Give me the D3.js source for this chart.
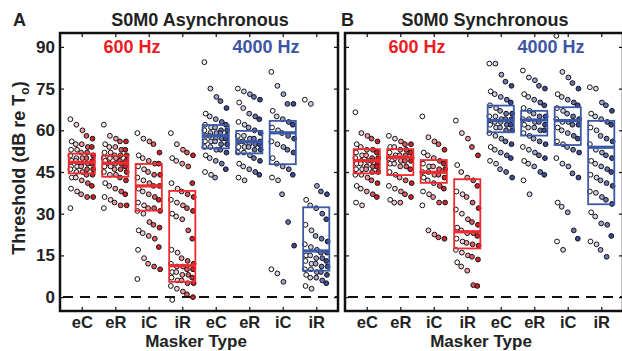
<!DOCTYPE html>
<html>
<head>
<meta charset="utf-8">
<script src="https://cdn.jsdelivr.net/npm/d3@7"></script>
<style>
  body { margin: 0; background: #fff; }
  svg { display: block; font-family: "Liberation Sans", Arial, sans-serif; font-weight: bold; }
</style>
</head>
<body>
<svg id="chart" width="622" height="351"></svg>
<script>
// Masker types, two frequencies per panel
const maskers = ["eC", "eR", "iC", "iR", "eC", "eR", "iC", "iR"];
const yTicks = [0, 15, 30, 45, 60, 75, 90];

// S0M0 Asynchronous, individual thresholds (dB)
const async600eC = [64, 62, 60, 58, 57, 56, 55, 55, 54, 54, 53, 53, 52, 52, 51, 51, 50, 50, 50, 49, 49, 49, 48, 48, 48, 47, 47, 47, 46, 46, 46, 45, 45, 44, 44, 43, 43, 42, 41, 40, 39, 38, 37, 36, 36, 32];
const async600eR = [62, 58, 57, 56, 56, 55, 54, 54, 53, 53, 52, 52, 51, 51, 51, 50, 50, 50, 49, 49, 49, 48, 48, 48, 47, 47, 47, 46, 46, 45, 45, 44, 44, 43, 42, 41, 40, 39, 38, 37, 36, 35, 34, 33, 33, 32];
const async600iC = [59, 57, 56, 55, 52, 51, 50, 49, 48, 48, 47, 46, 45, 44, 44, 43, 42, 41, 40, 40, 39, 38, 37, 36, 35, 34, 33, 32, 32, 31, 31, 30, 27, 26, 25, 24, 23, 22, 21, 18, 17, 14, 12, 11, 10, 6.5];
const async600iR = [59, 55, 53, 52, 51, 50, 49, 48, 47, 41, 41, 39, 38, 37, 36, 35, 34, 33, 32, 31, 30, 29, 28, 24, 21, 17, 16, 14, 13, 12, 12, 11, 11, 10, 10, 9, 9, 8, 8, 7, 7, 6, 6, 5, 5, 4, 3, 2, 1, 0, -1];
const async4000eC = [84.5, 75, 72, 70.5, 68, 66, 65, 64, 63, 62, 62, 61, 61, 60, 60, 60, 59, 59, 59, 58, 58, 58, 57, 57, 57, 56, 56, 56, 55, 55, 54, 54, 53, 53, 52, 51, 50, 49, 48, 46, 45, 44, 43];
const async4000eR = [75, 74, 73, 72, 71, 70, 68, 66, 65, 64, 63, 62, 61, 60, 59, 58, 58, 57, 57, 56, 56, 56, 55, 55, 55, 54, 54, 54, 53, 53, 52, 52, 51, 50, 49, 48, 47, 46, 45, 44, 43, 42];
const async4000iC = [81, 76, 73, 69.5, 69.5, 67, 65, 64, 63, 62, 61, 60, 59, 58, 57, 56, 55, 54, 53, 52, 50, 48, 47, 46, 44, 43, 42, 37, 27, 18.5, 10, 8.5, 5.5];
const async4000iR = [71, 69.5, 40, 38, 37, 35, 33, 32, 30, 28, 26, 24, 22, 21, 20, 19, 18, 17, 16, 16, 15, 15, 14, 14, 13, 13, 12, 12, 11, 11, 10, 10, 9, 9, 8, 8, 7, 7, 6, 5, 4, 3];

// S0M0 Synchronous, individual thresholds (dB)
const sync600eC = [66.5, 59, 58, 57, 56, 55, 54, 53, 53, 52, 52, 51, 51, 50, 50, 50, 49, 49, 49, 48, 48, 48, 47, 47, 47, 46, 46, 46, 45, 45, 44, 44, 43, 42, 41, 40, 39, 38, 37, 36, 34, 33];
const sync600eR = [58, 57, 56, 55, 55, 54, 54, 53, 53, 52, 52, 51, 51, 51, 50, 50, 50, 49, 49, 49, 48, 48, 47, 47, 46, 45, 44, 43, 42, 41, 40, 39, 38, 37, 36, 35, 34, 34];
const sync600iC = [65, 57.5, 56, 55, 53, 52, 51, 50, 49, 48, 48, 47, 47, 46, 46, 45, 45, 44, 44, 43, 43, 42, 41, 40, 39, 38, 37, 36, 34, 34, 33, 24, 22.5, 21.5, 21];
const sync600iR = [63.5, 59, 57, 54, 51, 47.5, 45, 43, 42, 40, 38, 37, 36, 34, 32, 31.5, 30, 28, 27, 26, 25, 24, 23, 23, 22, 21, 20, 19.5, 19, 18.5, 17, 16, 15, 14.5, 13.5, 12.5, 11, 9.5, 4.3, 4];
const sync4000eC = [84, 84, 80, 77.5, 76, 74, 73, 72, 71, 70, 69, 68, 67, 66, 66, 65, 65, 64, 64, 64, 63, 63, 63, 62, 62, 62, 61, 61, 60, 60, 59, 58, 57, 56, 55, 54, 53, 52, 51, 50, 49, 48, 46, 45, 43];
const sync4000eR = [81.5, 79, 78, 76, 75, 73, 72, 71, 70, 69, 68, 67, 66, 65, 65, 64, 64, 63, 63, 62, 62, 61, 61, 60, 60, 59, 58, 57, 56, 55, 54, 53, 52, 51, 50, 49, 48, 47, 45, 44, 42, 37];
const sync4000iC = [94, 81, 79, 77, 75, 73, 72, 71, 70, 69, 68, 67, 66, 65, 64, 64, 63, 63, 62, 62, 61, 60, 59, 58, 57, 56, 55, 54, 53, 52, 50, 48, 47, 44.5, 43, 34, 32.5, 30.5, 24, 21, 20, 17];
const sync4000iR = [75.5, 75, 70, 69, 67, 66, 65, 64, 63, 62, 61, 60, 58, 57, 56, 55, 53, 52, 51, 50, 49, 48, 47, 46, 45, 44, 43, 42, 41, 40, 38, 37.5, 36, 35, 33.5, 30.5, 29, 26.5, 26, 22, 20, 19, 17, 14.5];

// Box summaries (lower quartile, median, upper quartile) per masker
const asyncQ1 = [44.5, 43.3, 31.1, 5.5, 53.5, 51.7, 47.8, 9.5];
const asyncMed = [48.5, 48.2, 40.0, 11.3, 58.0, 55.9, 59.1, 16.6];
const asyncQ3 = [51.6, 50.9, 47.9, 38.2, 61.9, 59.8, 63.4, 32.3];
const syncQ1 = [44.5, 43.9, 41.1, 17.5, 59.3, 58.1, 54.7, 33.4];
const syncMed = [49.1, 50.3, 44.9, 23.5, 63.5, 63.7, 63.5, 53.9];
const syncQ3 = [53.2, 53.2, 49.3, 42.4, 68.9, 67.0, 68.3, 63.4];

const RED = "#ee2a2f", BLUE = "#3b58a8";
const redFills = ["#ffffff", "#f6d0d2", "#ec9a9e", "#df5a60", "#d42027"];
const blueFills = ["#ffffff", "#cfd3ea", "#9ca5d4", "#6874b4", "#3a4a9a"];

const svg = d3.select("#chart");
const plotTop = 33, plotBottom = 311;
const y = d3.scaleLinear().domain([-5, 95]).range([plotBottom, plotTop]);

/**
 * Draws one panel: frame, ticks, jittered points and boxes.
 */
function drawPanel(left, right, letter, title, series, q1, med, q3, showY) {
  const x = d3.scaleLinear().domain([0.35, 8.65]).range([left, right]);
  const g = svg.append("g");
  const step = x(2) - x(1);

  // dashed zero line
  g.append("line")
    .attr("x1", left + 3).attr("x2", right)
    .attr("y1", y(0)).attr("y2", y(0))
    .attr("stroke", "#111").attr("stroke-width", 2)
    .attr("stroke-dasharray", "10,7");

  // points
  series.forEach((vals, k) => {
    const fills = k < 4 ? redFills : blueFills;
    g.append("g").selectAll("circle")
      .data(vals)
      .join("circle")
      .attr("cx", (d, i) => x(k + 1) + ((i % 5) - 2) * 0.16 * step + (((i * 7) % 3) - 1) * 0.02 * step)
      .attr("cy", d => y(d))
      .attr("r", 2.4)
      .attr("fill", (d, i) => fills[i % 5])
      .attr("stroke", "#111")
      .attr("stroke-width", 1);
  });

  // boxes
  const bw = 0.39 * step;
  maskers.forEach((m, k) => {
    const c = k < 4 ? RED : BLUE;
    g.append("rect")
      .attr("x", x(k + 1) - bw).attr("width", 2 * bw)
      .attr("y", y(q3[k])).attr("height", y(q1[k]) - y(q3[k]))
      .attr("fill", "none").attr("stroke", c).attr("stroke-width", 1.8);
    g.append("line")
      .attr("x1", x(k + 1) - bw).attr("x2", x(k + 1) + bw)
      .attr("y1", y(med[k])).attr("y2", y(med[k]))
      .attr("stroke", c).attr("stroke-width", 3.2);
  });

  // axes with inward ticks
  const tickVals = d3.range(1, 9);
  const xb = g.append("g").attr("transform", `translate(0,${plotBottom})`)
    .call(d3.axisBottom(x).tickValues(tickVals).tickSize(-4).tickPadding(5).tickFormat((d, i) => maskers[i]));
  const xt = g.append("g").attr("transform", `translate(0,${plotTop})`)
    .call(d3.axisTop(x).tickValues(tickVals).tickSize(-4).tickFormat(""));
  const yl = g.append("g").attr("transform", `translate(${left},0)`)
    .call(d3.axisLeft(y).tickValues(yTicks).tickSize(-4).tickPadding(5).tickFormat(showY ? d3.format("d") : ""));
  const yr = g.append("g").attr("transform", `translate(${right},0)`)
    .call(d3.axisRight(y).tickValues(yTicks).tickSize(-4).tickFormat(""));
  [xb, xt, yl, yr].forEach(a => {
    a.select(".domain").remove();
    a.selectAll("line").attr("stroke", "#111").attr("stroke-width", 1.2);
    a.selectAll("text").attr("fill", "#222").style("font-size", "17px").style("font-weight", "bold")
      .style("font-family", "'Liberation Sans', Arial, sans-serif");
  });
  xb.selectAll("text").style("font-size", "16.5px");

  // frame
  g.append("rect")
    .attr("x", left).attr("y", plotTop)
    .attr("width", right - left).attr("height", plotBottom - plotTop)
    .attr("fill", "none").attr("stroke", "#111").attr("stroke-width", 2.5);

  // titles
  g.append("text").attr("x", left - 47).attr("y", 26).style("font-size", "18px").attr("fill", "#222")
    .text(letter);
  g.append("text").attr("x", (left + right) / 2 + 1).attr("y", 26).attr("text-anchor", "middle")
    .style("font-size", "18px").attr("fill", "#222").text(title);
  g.append("text").attr("x", x(2.5)).attr("y", 53).attr("text-anchor", "middle")
    .style("font-size", "18px").attr("fill", "#ec1c24").text("600 Hz");
  g.append("text").attr("x", x(6.5)).attr("y", 53).attr("text-anchor", "middle")
    .style("font-size", "18px").attr("fill", "#3c55a5").text("4000 Hz");
  g.append("text").attr("x", (left + right) / 2 - 3).attr("y", 346.5).attr("text-anchor", "middle")
    .style("font-size", "17px").attr("fill", "#222").text("Masker Type");
}

drawPanel(60, 338, "A", "S0M0 Asynchronous",
  [async600eC, async600eR, async600iC, async600iR, async4000eC, async4000eR, async4000iC, async4000iR],
  asyncQ1, asyncMed, asyncQ3, true);
drawPanel(345, 623, "", "S0M0 Synchronous",
  [sync600eC, sync600eR, sync600iC, sync600iR, sync4000eC, sync4000eR, sync4000iC, sync4000iR],
  syncQ1, syncMed, syncQ3, false);

svg.append("text").attr("x", 341).attr("y", 26).style("font-size", "18px").attr("fill", "#222").text("B");

// y-axis title
const yt = svg.append("text")
  .attr("transform", "translate(25,168) rotate(-90)")
  .attr("text-anchor", "middle")
  .style("font-size", "18px").attr("fill", "#222");
yt.append("tspan").text("Threshold (dB re T");
yt.append("tspan").attr("dy", 4).style("font-size", "12px").text("o");
yt.append("tspan").attr("dy", -4).text(")");
</script>
</body>
</html>
